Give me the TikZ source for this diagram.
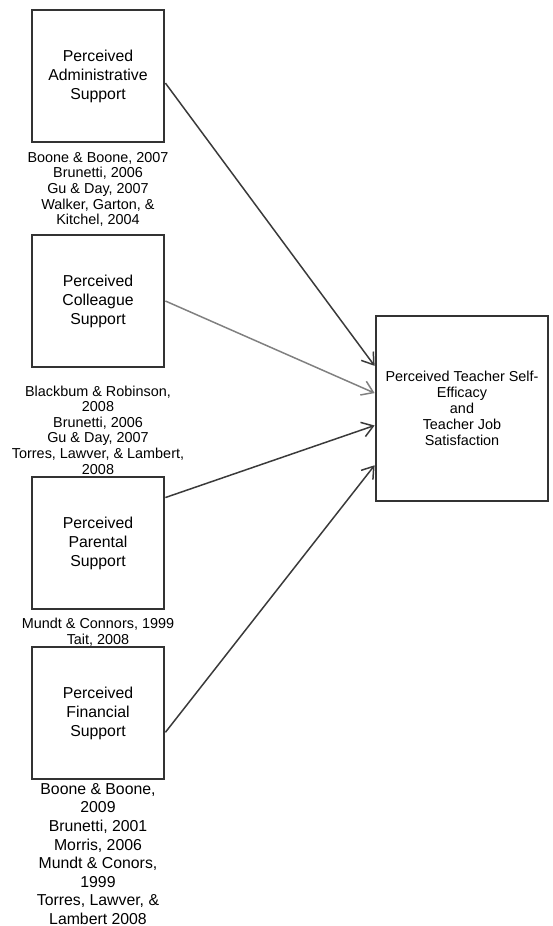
\documentclass[tikz,border=0pt]{standalone}
\usepackage{fontspec}
\setmainfont{Liberation Sans}
\usetikzlibrary{arrows.meta}
\definecolor{boxline}{HTML}{333333}
\definecolor{arrowdark}{HTML}{3A3A3A}
\definecolor{arrowgray}{HTML}{808080}
\begin{document}
\begin{tikzpicture}[x=0.02cm, y=-0.02cm]
    \useasboundingbox (0,0) rectangle (552,926);
    \begin{scope}
        \tikzstyle{every node}=[fill=white, draw=boxline, line width=1.6pt, rectangle, text=black, align=center, font=\fontsize{9}{10.8}\selectfont]
        \node[minimum width=2.64cm, minimum height=2.64cm] (adm) at (98,76) {Perceived\\Administrative\\Support};
        \node[minimum width=2.64cm, minimum height=2.64cm] (col) at (98,301) {Perceived\\Colleague\\Support};
        \node[minimum width=2.64cm, minimum height=2.64cm] (par) at (98,543) {Perceived\\Parental\\Support};
        \node[minimum width=2.64cm, minimum height=2.64cm] (fin) at (98,713) {Perceived\\Financial\\Support};
        \node[minimum width=3.44cm, minimum height=3.7cm, font=\fontsize{8.2}{9.1}\selectfont] (sat) at (462,408.5) {Perceived Teacher Self-\\Efficacy\\and\\Teacher Job\\Satisfaction};
    \end{scope}
    \begin{scope}
        \tikzstyle{every node}=[text=black, align=center, inner sep=0pt, font=\fontsize{8.2}{8.9}\selectfont]
        \node (admref) at (98,189.5) {Boone \& Boone, 2007\\Brunetti, 2006\\Gu \& Day, 2007\\Walker, Garton, \&\\Kitchel, 2004};
        \node (colref) at (98,430) {Blackbum \& Robinson,\\2008\\Brunetti, 2006\\Gu \& Day, 2007\\Torres, Lawver, \& Lambert,\\2008};
        \node (parref) at (98,632) {Mundt \& Connors, 1999\\Tait, 2008};
        \node[font=\fontsize{9}{10.6}\selectfont] (finref) at (98,854) {Boone \& Boone,\\2009\\Brunetti, 2001\\Morris, 2006\\Mundt \& Conors,\\1999\\Torres, Lawver, \&\\Lambert 2008};
    \end{scope}
    \begin{scope}
        \tikzstyle{every edge}=[draw=arrowdark, line width=0.85pt, -{Straight Barb[length=2.2mm, width=3mm]}]
        \path
        (adm.-6) edge (sat.154)
        (col.east) edge[draw=arrowgray] (sat.170)
        (par.34) edge (sat.191)
        (fin.-16) edge (sat.213);
    \end{scope}
\end{tikzpicture}
\end{document}
